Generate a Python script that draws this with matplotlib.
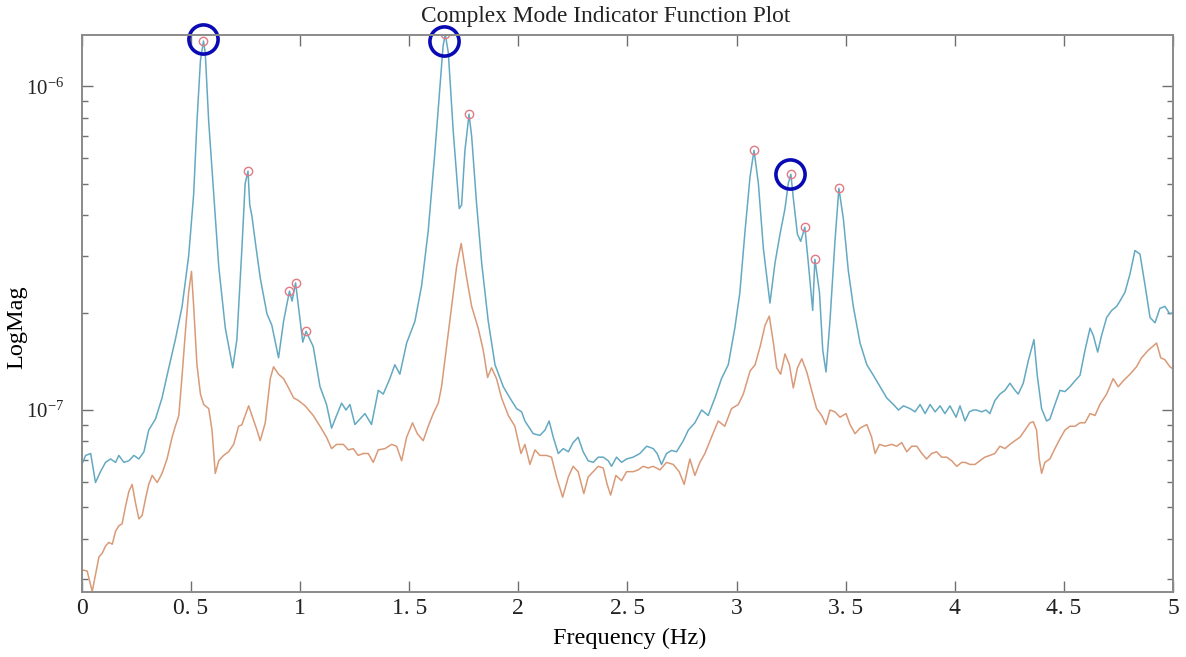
import matplotlib
matplotlib.use('Agg')
import matplotlib.pyplot as plt
import numpy as np

plt.rcParams['font.family'] = ['Liberation Serif', 'DejaVu Serif']
plt.rcParams['mathtext.fontset'] = 'custom'
plt.rcParams['mathtext.rm'] = 'Liberation Serif'

# first singular value (blue)
freq_blue = [
    0.000, 0.017, 0.040, 0.062, 0.085, 0.108, 0.131, 0.154, 0.169, 0.192,
    0.215, 0.238, 0.261, 0.284, 0.306, 0.337, 0.367, 0.398, 0.428, 0.459,
    0.489, 0.512, 0.527, 0.543, 0.557, 0.565, 0.581, 0.604, 0.627, 0.657,
    0.691, 0.710, 0.733, 0.748, 0.761, 0.769, 0.779, 0.794, 0.817, 0.848,
    0.870, 0.901, 0.924, 0.951, 0.963, 0.979, 0.992, 1.012, 1.027, 1.060,
    1.091, 1.121, 1.144, 1.167, 1.190, 1.210, 1.228, 1.251, 1.274, 1.297,
    1.327, 1.358, 1.381, 1.411, 1.434, 1.457, 1.488, 1.526, 1.557, 1.587,
    1.618, 1.641, 1.655, 1.665, 1.679, 1.702, 1.729, 1.740, 1.755, 1.774,
    1.786, 1.809, 1.832, 1.862, 1.893, 1.931, 1.961, 1.992, 2.015, 2.030,
    2.068, 2.099, 2.122, 2.141, 2.160, 2.183, 2.206, 2.229, 2.251, 2.274,
    2.297, 2.320, 2.343, 2.366, 2.389, 2.412, 2.427, 2.450, 2.473, 2.496,
    2.526, 2.557, 2.588, 2.618, 2.636, 2.656, 2.679, 2.702, 2.725, 2.756,
    2.779, 2.809, 2.840, 2.870, 2.901, 2.931, 2.962, 2.992, 3.015, 3.039,
    3.062, 3.080, 3.100, 3.123, 3.153, 3.176, 3.199, 3.222, 3.237, 3.249,
    3.260, 3.279, 3.294, 3.313, 3.329, 3.349, 3.359, 3.380, 3.395, 3.410,
    3.428, 3.451, 3.469, 3.490, 3.512, 3.535, 3.566, 3.597, 3.627, 3.658,
    3.688, 3.719, 3.742, 3.765, 3.795, 3.818, 3.841, 3.864, 3.887, 3.910,
    3.933, 3.955, 3.978, 4.006, 4.024, 4.047, 4.067, 4.085, 4.100, 4.123,
    4.143, 4.161, 4.184, 4.207, 4.230, 4.253, 4.276, 4.291, 4.314, 4.337,
    4.363, 4.378, 4.398, 4.421, 4.436, 4.459, 4.482, 4.505, 4.528, 4.551,
    4.574, 4.597, 4.620, 4.635, 4.655, 4.673, 4.696, 4.719, 4.742, 4.757,
    4.780, 4.803, 4.826, 4.849, 4.872, 4.895, 4.918, 4.940, 4.963, 4.986,
    5.000,
]
mag_blue = [
    6.8e-8, 7.24e-8, 7.34e-8, 5.97e-8, 6.45e-8, 6.89e-8, 7.06e-8, 6.89e-8, 7.24e-8, 6.89e-8,
    6.97e-8, 7.24e-8, 7.06e-8, 7.43e-8, 8.67e-8, 9.38e-8, 1.09e-7, 1.35e-7, 1.65e-7, 2.09e-7,
    2.99e-7, 4.64e-7, 7.76e-7, 1.20e-6, 1.38e-6, 1.27e-6, 7.76e-7, 4.64e-7, 2.77e-7, 1.79e-7,
    1.35e-7, 1.65e-7, 3.15e-7, 5.01e-7, 5.47e-7, 4.30e-7, 3.97e-7, 3.32e-7, 2.56e-7, 1.98e-7,
    1.83e-7, 1.45e-7, 1.88e-7, 2.33e-7, 2.17e-7, 2.47e-7, 2.09e-7, 1.62e-7, 1.75e-7, 1.57e-7,
    1.18e-7, 1.04e-7, 8.79e-8, 9.62e-8, 1.05e-7, 1.00e-7, 1.04e-7, 9.02e-8, 9.38e-8, 9.75e-8,
    9.02e-8, 1.15e-7, 1.12e-7, 1.25e-7, 1.38e-7, 1.29e-7, 1.61e-7, 1.88e-7, 2.43e-7, 3.58e-7,
    6.32e-7, 1.00e-6, 1.33e-6, 1.45e-6, 1.27e-6, 7.19e-7, 4.19e-7, 4.30e-7, 6.32e-7, 8.20e-7,
    7.00e-7, 4.30e-7, 2.84e-7, 1.88e-7, 1.38e-7, 1.18e-7, 1.09e-7, 1.01e-7, 9.87e-8, 9.25e-8,
    8.45e-8, 8.35e-8, 8.67e-8, 9.25e-8, 8.24e-8, 7.34e-8, 7.60e-8, 7.43e-8, 7.93e-8, 8.24e-8,
    7.43e-8, 6.97e-8, 6.89e-8, 7.15e-8, 7.15e-8, 6.97e-8, 6.70e-8, 7.15e-8, 6.89e-8, 7.06e-8,
    7.15e-8, 7.34e-8, 7.73e-8, 7.60e-8, 7.34e-8, 6.79e-8, 7.34e-8, 7.50e-8, 7.43e-8, 8.04e-8,
    8.67e-8, 9.13e-8, 1.00e-7, 9.62e-8, 1.09e-7, 1.25e-7, 1.38e-7, 1.79e-7, 2.30e-7, 3.58e-7,
    5.27e-7, 6.34e-7, 5.01e-7, 3.15e-7, 2.14e-7, 2.84e-7, 3.49e-7, 4.19e-7, 5.01e-7, 5.35e-7,
    4.52e-7, 3.49e-7, 3.32e-7, 3.67e-7, 2.84e-7, 2.03e-7, 2.92e-7, 2.31e-7, 1.53e-7, 1.31e-7,
    1.88e-7, 3.32e-7, 4.84e-7, 3.87e-7, 2.70e-7, 2.09e-7, 1.61e-7, 1.38e-7, 1.28e-7, 1.18e-7,
    1.09e-7, 1.04e-7, 1.00e-7, 1.03e-7, 1.01e-7, 9.87e-8, 1.04e-7, 9.75e-8, 1.04e-7, 9.87e-8,
    1.03e-7, 9.75e-8, 1.03e-7, 9.50e-8, 1.03e-7, 9.25e-8, 9.87e-8, 1.00e-7, 1.00e-7, 9.87e-8,
    1.00e-7, 9.75e-8, 1.07e-7, 1.12e-7, 1.15e-7, 1.21e-7, 1.15e-7, 1.12e-7, 1.21e-7, 1.42e-7,
    1.65e-7, 1.28e-7, 1.01e-7, 9.25e-8, 9.38e-8, 1.04e-7, 1.15e-7, 1.14e-7, 1.18e-7, 1.23e-7,
    1.28e-7, 1.53e-7, 1.79e-7, 1.70e-7, 1.51e-7, 1.70e-7, 1.93e-7, 2.03e-7, 2.09e-7, 2.17e-7,
    2.31e-7, 2.63e-7, 3.11e-7, 3.03e-7, 2.43e-7, 1.93e-7, 1.86e-7, 2.06e-7, 2.09e-7, 1.98e-7,
    2.00e-7,
]

# second singular value (orange)
freq_orange = [
    0.000, 0.024, 0.047, 0.062, 0.078, 0.093, 0.108, 0.123, 0.139, 0.154,
    0.169, 0.184, 0.200, 0.215, 0.230, 0.245, 0.261, 0.276, 0.291, 0.306,
    0.322, 0.345, 0.367, 0.390, 0.413, 0.428, 0.444, 0.459, 0.474, 0.489,
    0.502, 0.512, 0.527, 0.543, 0.558, 0.581, 0.596, 0.611, 0.627, 0.649,
    0.672, 0.695, 0.718, 0.733, 0.748, 0.764, 0.779, 0.802, 0.817, 0.840,
    0.863, 0.878, 0.901, 0.924, 0.947, 0.970, 0.992, 1.023, 1.060, 1.091,
    1.121, 1.144, 1.167, 1.198, 1.221, 1.243, 1.266, 1.289, 1.312, 1.335,
    1.358, 1.389, 1.419, 1.442, 1.465, 1.488, 1.515, 1.537, 1.564, 1.587,
    1.610, 1.633, 1.648, 1.671, 1.694, 1.717, 1.738, 1.763, 1.786, 1.816,
    1.839, 1.859, 1.877, 1.900, 1.923, 1.954, 1.984, 2.012, 2.030, 2.053,
    2.076, 2.099, 2.129, 2.152, 2.175, 2.203, 2.229, 2.251, 2.274, 2.300,
    2.320, 2.343, 2.366, 2.389, 2.407, 2.423, 2.447, 2.473, 2.496, 2.526,
    2.549, 2.572, 2.595, 2.618, 2.649, 2.679, 2.710, 2.737, 2.760, 2.786,
    2.809, 2.832, 2.855, 2.885, 2.916, 2.946, 2.977, 3.008, 3.031, 3.062,
    3.085, 3.108, 3.131, 3.150, 3.169, 3.184, 3.202, 3.222, 3.242, 3.260,
    3.279, 3.299, 3.322, 3.344, 3.367, 3.390, 3.410, 3.428, 3.451, 3.474,
    3.502, 3.520, 3.543, 3.566, 3.597, 3.619, 3.635, 3.655, 3.681, 3.711,
    3.734, 3.757, 3.780, 3.803, 3.826, 3.849, 3.871, 3.894, 3.917, 3.940,
    3.963, 3.986, 4.009, 4.032, 4.047, 4.070, 4.093, 4.115, 4.138, 4.161,
    4.184, 4.207, 4.230, 4.253, 4.276, 4.299, 4.322, 4.345, 4.360, 4.375,
    4.387, 4.398, 4.413, 4.436, 4.459, 4.482, 4.505, 4.528, 4.551, 4.574,
    4.597, 4.620, 4.643, 4.665, 4.696, 4.726, 4.749, 4.772, 4.803, 4.833,
    4.856, 4.887, 4.925, 4.944, 4.963, 4.986, 5.000,
]
mag_orange = [
    3.21e-8, 3.18e-8, 2.75e-8, 3.10e-8, 3.52e-8, 3.61e-8, 3.80e-8, 3.90e-8, 3.85e-8, 4.22e-8,
    4.39e-8, 4.45e-8, 5.05e-8, 5.60e-8, 5.89e-8, 5.18e-8, 4.61e-8, 4.73e-8, 5.31e-8, 5.89e-8,
    6.28e-8, 5.97e-8, 6.37e-8, 7.06e-8, 8.24e-8, 8.91e-8, 9.62e-8, 1.28e-7, 1.74e-7, 2.31e-7,
    2.68e-7, 2.09e-7, 1.38e-7, 1.12e-7, 1.04e-7, 1.01e-7, 8.67e-8, 6.37e-8, 6.97e-8, 7.24e-8,
    7.43e-8, 7.83e-8, 8.91e-8, 9.00e-8, 9.62e-8, 1.03e-7, 9.62e-8, 8.67e-8, 8.04e-8, 9.13e-8,
    1.25e-7, 1.36e-7, 1.29e-7, 1.25e-7, 1.17e-7, 1.09e-7, 1.07e-7, 1.03e-7, 9.62e-8, 8.91e-8,
    8.24e-8, 7.60e-8, 7.83e-8, 7.83e-8, 7.53e-8, 7.60e-8, 7.24e-8, 7.34e-8, 7.34e-8, 6.89e-8,
    7.53e-8, 7.60e-8, 7.83e-8, 7.73e-8, 6.97e-8, 8.24e-8, 9.13e-8, 8.45e-8, 8.04e-8, 8.91e-8,
    9.75e-8, 1.05e-7, 1.18e-7, 1.57e-7, 2.09e-7, 2.77e-7, 3.27e-7, 2.56e-7, 2.09e-7, 1.79e-7,
    1.53e-7, 1.26e-7, 1.35e-7, 1.25e-7, 1.09e-7, 9.62e-8, 8.91e-8, 7.34e-8, 7.83e-8, 6.79e-8,
    7.53e-8, 7.24e-8, 7.24e-8, 7.15e-8, 6.21e-8, 5.38e-8, 6.21e-8, 6.70e-8, 6.45e-8, 5.52e-8,
    6.21e-8, 6.45e-8, 6.70e-8, 6.62e-8, 5.89e-8, 5.46e-8, 6.28e-8, 6.05e-8, 6.45e-8, 6.45e-8,
    6.53e-8, 6.70e-8, 6.62e-8, 6.70e-8, 6.53e-8, 6.89e-8, 6.79e-8, 6.45e-8, 5.89e-8, 7.06e-8,
    6.28e-8, 6.89e-8, 7.34e-8, 8.24e-8, 9.25e-8, 8.91e-8, 1.01e-7, 1.04e-7, 1.12e-7, 1.32e-7,
    1.38e-7, 1.57e-7, 1.83e-7, 1.95e-7, 1.61e-7, 1.35e-7, 1.29e-7, 1.49e-7, 1.38e-7, 1.17e-7,
    1.35e-7, 1.44e-7, 1.31e-7, 1.15e-7, 1.01e-7, 9.62e-8, 9.02e-8, 1.00e-7, 9.87e-8, 9.50e-8,
    9.75e-8, 9.02e-8, 8.45e-8, 8.79e-8, 9.02e-8, 8.24e-8, 7.34e-8, 7.83e-8, 7.73e-8, 7.83e-8,
    7.73e-8, 7.93e-8, 7.43e-8, 7.73e-8, 7.73e-8, 7.34e-8, 7.06e-8, 7.34e-8, 7.43e-8, 7.15e-8,
    7.15e-8, 6.97e-8, 6.70e-8, 6.89e-8, 6.89e-8, 6.79e-8, 6.79e-8, 6.97e-8, 7.15e-8, 7.24e-8,
    7.34e-8, 7.73e-8, 7.60e-8, 7.83e-8, 8.04e-8, 8.24e-8, 8.67e-8, 9.13e-8, 9.20e-8, 8.67e-8,
    7.06e-8, 6.37e-8, 6.89e-8, 7.06e-8, 7.60e-8, 8.14e-8, 8.67e-8, 8.91e-8, 8.91e-8, 9.13e-8,
    9.13e-8, 9.75e-8, 9.62e-8, 1.04e-7, 1.12e-7, 1.25e-7, 1.18e-7, 1.23e-7, 1.29e-7, 1.36e-7,
    1.45e-7, 1.53e-7, 1.61e-7, 1.45e-7, 1.43e-7, 1.36e-7, 1.34e-7,
]

# picked peaks (small circles) and the three highlighted ones
peak_freq = [0.557, 0.761, 0.951, 0.979, 1.027, 1.665, 1.774,
             3.080, 3.249, 3.313, 3.359, 3.469]
peak_mag = [1.38e-6, 5.47e-7, 2.33e-7, 2.47e-7, 1.75e-7, 1.45e-6, 8.20e-7,
            6.34e-7, 5.35e-7, 3.67e-7, 2.92e-7, 4.84e-7]
chosen_freq = [0.557, 1.660, 3.245]
chosen_mag = [1.40e-6, 1.38e-6, 5.35e-7]

x_ticks = [0, 0.5, 1, 1.5, 2, 2.5, 3, 3.5, 4, 4.5, 5]
x_tick_labels = ['0', '0. 5', '1', '1. 5', '2', '2. 5', '3', '3. 5', '4', '4. 5', '5']

fig = plt.figure(figsize=(11.86, 6.57), dpi=100)
ax = fig.add_axes([0.0691, 0.0989, 0.9199, 0.8478])

ax.plot(freq_orange, mag_orange, color='#d99a78', linewidth=1.1)
ax.plot(freq_blue, mag_blue, color='#64a9c2', linewidth=1.1)
ax.plot(peak_freq, peak_mag, 'o', markersize=6, markerfacecolor='none',
        markeredgecolor='#e07a86', markeredgewidth=1.0)
ax.plot(chosen_freq, chosen_mag, 'o', markersize=21, markerfacecolor='none',
        markeredgecolor='#0a0ab4', markeredgewidth=2.6, clip_on=False)

ax.set_yscale('log')
ax.set_xlim(0, 5)
ax.set_ylim(2.74e-8, 1.44e-6)
ax.set_xticks(x_ticks)
ax.set_xticklabels(x_tick_labels)

ax.tick_params(axis='both', which='both', direction='in', colors='#707070',
               labelcolor='#222222', top=True, right=True)
ax.tick_params(axis='both', which='major', length=8, width=1.0)
ax.tick_params(axis='x', which='major', labelsize=17, pad=4)
ax.tick_params(axis='y', which='major', labelsize=15, pad=13)
ax.tick_params(axis='y', which='minor', length=4, width=1.0)
for s in ax.spines.values():
    s.set_color('#8a8a8a')
    s.set_linewidth(1.4)

ax.set_xlabel('Frequency (Hz)', fontsize=17.5, va='center')
ax.set_ylabel('LogMag', fontsize=17.5, va='center', ha='center')
ax.xaxis.set_label_coords(0.502, -0.084)
ax.yaxis.set_label_coords(-0.0596, 0.476)
fig.text(0.511, 0.975, 'Complex Mode Indicator Function Plot', ha='center',
         va='center', fontsize=16.8, color='#222222')

plt.savefig('out.png', dpi=100, facecolor='white')
plt.close()
